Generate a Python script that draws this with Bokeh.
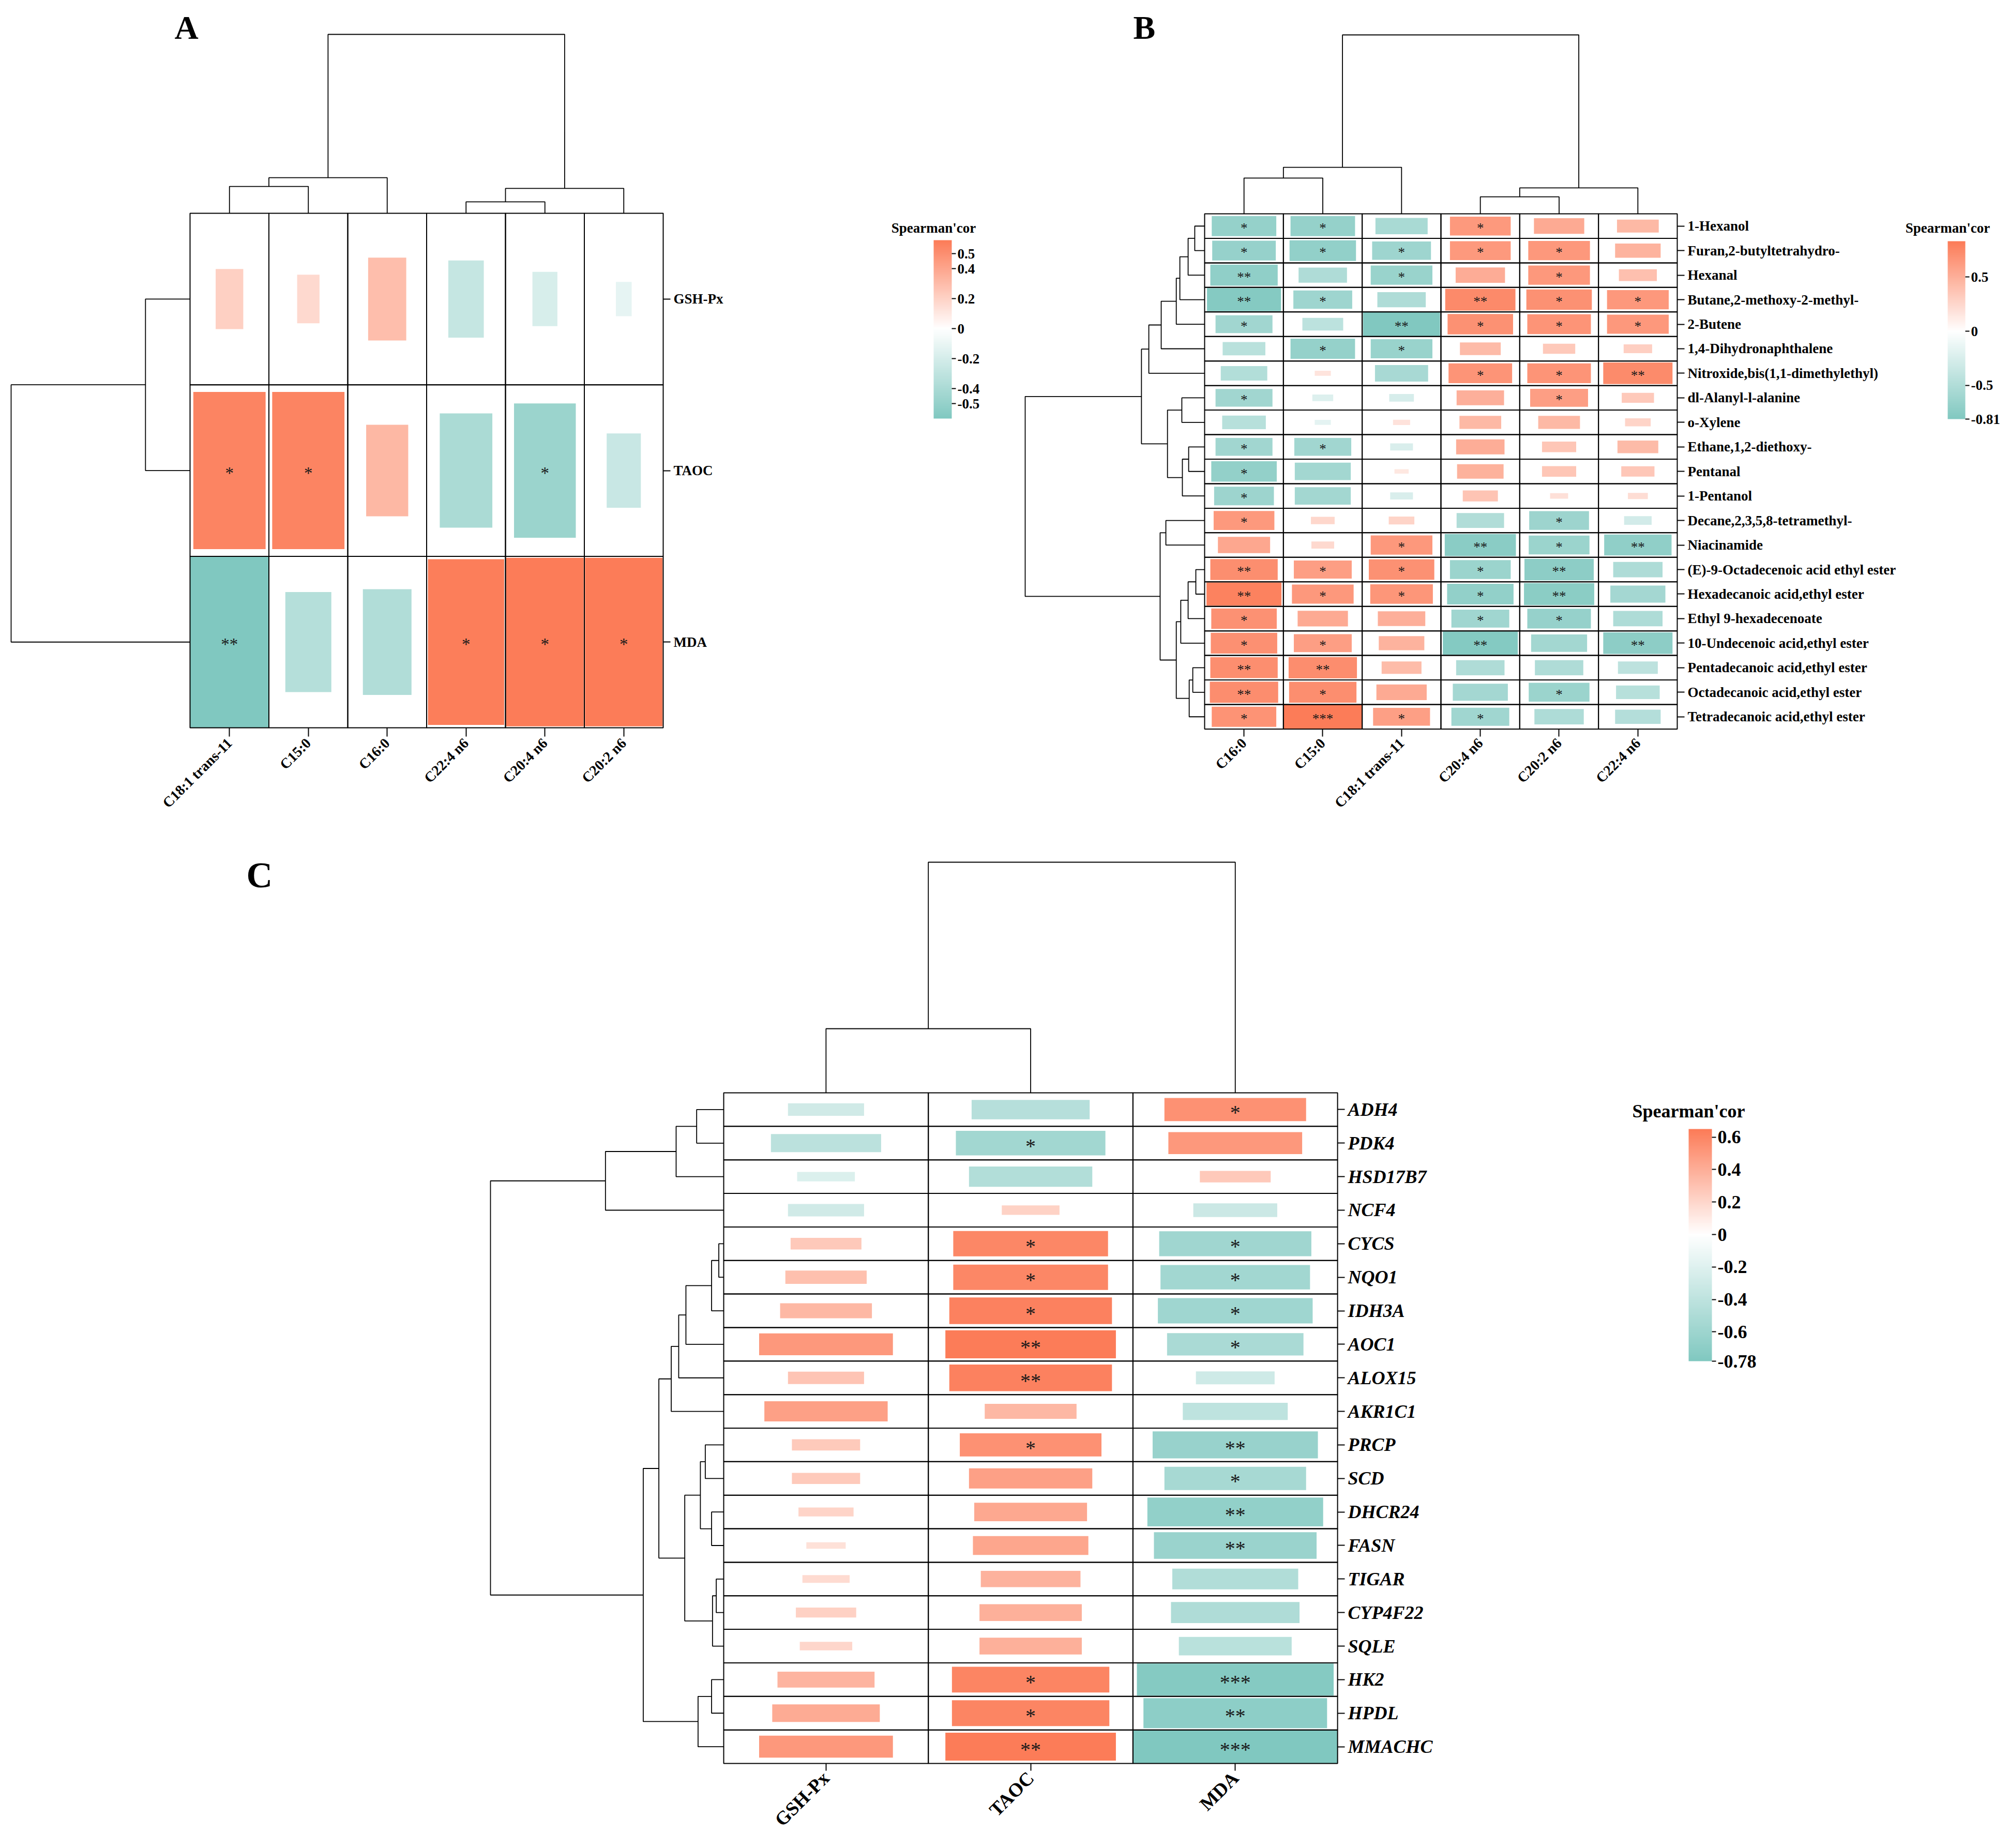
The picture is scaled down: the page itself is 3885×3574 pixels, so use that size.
import math
from bokeh.plotting import figure
from bokeh.models import ColumnDataSource, Range1d, FixedTicker, LinearColorMapper, ColorBar, Label
from bokeh.layouts import row, column
from bokeh.embed import file_html
from bokeh.resources import INLINE
from bokeh.core.properties import value

FONT = "Liberation Serif"

# ---------------- Panel A data ----------------
a_cols = ["C18:1 trans-11", "C15:0", "C16:0", "C22:4 n6", "C20:4 n6", "C20:2 n6"]
a_rows = ["GSH-Px", "TAOC", "MDA"]
a_gsh_px = [0.21, 0.17, 0.29, -0.27, -0.19, -0.12]
a_taoc = [0.55, 0.55, 0.32, -0.40, -0.47, -0.26]
a_mda = [-0.60, -0.35, -0.37, 0.58, 0.59, 0.59]
a_sig_gsh_px = ["", "", "", "", "", ""]
a_sig_taoc = ["*", "*", "", "", "*", ""]
a_sig_mda = ["**", "", "", "*", "*", "*"]
a_col_merges = [(0, 1, 0.150), (6, 2, 0.199), (3, 4, 0.064), (8, 5, 0.139), (7, 9, 1.0)]
a_row_merges = [(0, 1, 0.249), (3, 2, 1.0)]
a_legend_ticks = [-0.5, -0.4, -0.2, 0, 0.2, 0.4, 0.5]

# ---------------- Panel B data ----------------
b_cols = ["C16:0", "C15:0", "C18:1 trans-11", "C20:4 n6", "C20:2 n6", "C22:4 n6"]
b_rows = ["1-Hexanol", "Furan,2-butyltetrahydro-", "Hexanal", "Butane,2-methoxy-2-methyl-",
          "2-Butene", "1,4-Dihydronaphthalene", "Nitroxide,bis(1,1-dimethylethyl)",
          "dl-Alanyl-l-alanine", "o-Xylene", "Ethane,1,2-diethoxy-", "Pentanal", "1-Pentanol",
          "Decane,2,3,5,8-tetramethyl-", "Niacinamide", "(E)-9-Octadecenoic acid ethyl ester",
          "Hexadecanoic acid,ethyl ester", "Ethyl 9-hexadecenoate", "10-Undecenoic acid,ethyl ester",
          "Pentadecanoic acid,ethyl ester", "Octadecanoic acid,ethyl ester", "Tetradecanoic acid,ethyl ester"]
b_c16_0 = [-0.68, -0.67, -0.71, -0.78, -0.60, -0.45, -0.49, -0.60, -0.46, -0.60, -0.69, -0.63,
           0.64, 0.55, 0.71, 0.79, 0.69, 0.70, 0.71, 0.72, 0.68]
b_c15_0 = [-0.68, -0.70, -0.51, -0.62, -0.43, -0.68, 0.17, -0.22, -0.17, -0.60, -0.59, -0.59,
           0.25, 0.24, 0.61, 0.65, 0.53, 0.61, 0.72, 0.71, 0.83]
b_c18_1 = [-0.55, -0.62, -0.65, -0.51, -0.81, -0.65, -0.56, -0.26, 0.18, -0.24, 0.15, -0.24,
           0.27, 0.65, 0.69, 0.66, 0.50, 0.48, 0.42, 0.53, 0.60]
b_c20_4 = [0.64, 0.64, 0.52, 0.74, 0.69, 0.43, 0.67, 0.50, 0.44, 0.51, 0.49, 0.37,
           -0.50, -0.75, -0.64, -0.70, -0.61, -0.79, -0.51, -0.58, -0.61]
b_c20_2 = [0.53, 0.65, 0.65, 0.69, 0.67, 0.34, 0.67, 0.61, 0.44, 0.36, 0.36, 0.19,
           -0.63, -0.64, -0.73, -0.74, -0.67, -0.59, -0.51, -0.64, -0.52]
b_c22_4 = [0.44, 0.48, 0.40, 0.65, 0.65, 0.30, 0.73, 0.34, 0.27, 0.43, 0.35, 0.21,
           -0.29, -0.71, -0.52, -0.58, -0.52, -0.73, -0.42, -0.46, -0.48]
b_sig_c16_0 = ["*", "*", "**", "**", "*", "", "", "*", "", "*", "*", "*", "*", "", "**", "**", "*", "*", "**", "**", "*"]
b_sig_c15_0 = ["*", "*", "", "*", "", "*", "", "", "", "*", "", "", "", "", "*", "*", "", "*", "**", "*", "***"]
b_sig_c18_1 = ["", "*", "*", "", "**", "*", "", "", "", "", "", "", "", "*", "*", "*", "", "", "", "", "*"]
b_sig_c20_4 = ["*", "*", "", "**", "*", "", "*", "", "", "", "", "", "", "**", "*", "*", "*", "**", "", "", "*"]
b_sig_c20_2 = ["", "*", "*", "*", "*", "", "*", "*", "", "", "", "", "*", "*", "**", "**", "*", "", "", "*", ""]
b_sig_c22_4 = ["", "", "", "*", "*", "", "**", "", "", "", "", "", "", "**", "", "", "", "**", "", "", ""]
b_col_merges = [(0, 1, 0.20), (6, 2, 0.26), (3, 4, 0.095), (8, 5, 0.145), (7, 9, 1.0)]
b_row_merges = [(0, 1, 0.055), (21, 2, 0.092), (22, 3, 0.138), (23, 4, 0.158), (24, 5, 0.242),
                (25, 6, 0.311), (7, 8, 0.127), (9, 10, 0.089), (28, 11, 0.124), (27, 29, 0.207),
                (26, 30, 0.352), (12, 13, 0.216), (14, 15, 0.049), (33, 16, 0.092), (34, 17, 0.133),
                (18, 19, 0.066), (36, 20, 0.086), (35, 37, 0.158), (32, 38, 0.248), (31, 39, 1.0)]
b_legend_ticks = [-0.81, -0.5, 0, 0.5]

# ---------------- Panel C data ----------------
c_cols = ["GSH-Px", "TAOC", "MDA"]
c_rows = ["ADH4", "PDK4", "HSD17B7", "NCF4", "CYCS", "NQO1", "IDH3A", "AOC1", "ALOX15", "AKR1C1",
          "PRCP", "SCD", "DHCR24", "FASN", "TIGAR", "CYP4F22", "SQLE", "HK2", "HPDL", "MMACHC"]
c_gsh_px = [-0.29, -0.42, -0.22, -0.29, 0.27, 0.31, 0.35, 0.51, 0.29, 0.47,
            0.26, 0.26, 0.21, 0.15, 0.18, 0.23, 0.20, 0.37, 0.41, 0.51]
c_taoc = [-0.45, -0.57, -0.47, 0.22, 0.59, 0.59, 0.62, 0.65, 0.62, 0.35,
          0.54, 0.47, 0.43, 0.44, 0.38, 0.39, 0.39, 0.60, 0.60, 0.65]
c_mda = [0.54, 0.51, 0.27, -0.32, -0.58, -0.57, -0.59, -0.52, -0.30, -0.40,
         -0.63, -0.54, -0.67, -0.62, -0.48, -0.49, -0.43, -0.75, -0.70, -0.78]
c_sig_gsh_px = [""] * 20
c_sig_taoc = ["", "*", "", "", "*", "*", "*", "**", "**", "", "*", "", "", "", "", "", "", "*", "*", "**"]
c_sig_mda = ["*", "", "", "", "*", "*", "*", "*", "", "", "**", "*", "**", "**", "", "", "", "***", "**", "***"]
c_col_merges = [(0, 1, 0.278), (3, 2, 1.0)]
c_row_merges = [(0, 1, 0.116), (20, 2, 0.204), (21, 3, 0.507), (4, 5, 0.021), (23, 6, 0.052),
                (24, 7, 0.162), (25, 8, 0.193), (26, 9, 0.225), (10, 11, 0.079), (12, 13, 0.052),
                (28, 29, 0.10), (14, 15, 0.032), (31, 16, 0.048), (30, 32, 0.167), (27, 33, 0.278),
                (17, 18, 0.052), (35, 19, 0.11), (34, 36, 0.345), (22, 37, 1.0)]
c_legend_ticks = [-0.78, -0.6, -0.4, -0.2, 0, 0.2, 0.4, 0.6]

TEAL = (128, 200, 192)
CORAL = (252, 123, 87)


def make_palette(low, high, n=256):
    pal = []
    for k in range(n):
        v = low + (high - low) * (k + 0.5) / n
        if v < 0:
            t, c = v / low, TEAL
        else:
            t, c = v / high, CORAL
        rgb = tuple(int(round(255 + t * (ci - 255))) for ci in c)
        pal.append("#%02x%02x%02x" % rgb)
    return pal


def dendro(merges, n):
    pos = [float(i) for i in range(n)]
    hgt = [0.0] * n
    ps, hs = [], []
    for a, b, h in merges:
        ps.append([pos[a], pos[a], pos[b], pos[b]])
        hs.append([hgt[a], h, h, hgt[b]])
        pos.append((pos[a] + pos[b]) / 2.0)
        hgt.append(h)
    return ps, hs


def fmt_tick(t):
    return "0" if t == 0 else ("%g" % t)


def style_plain(p):
    p.outline_line_color = None
    p.background_fill_color = "white"
    p.border_fill_color = "white"


def build_panel(cfg, matrix, sigs, mapper):
    cols, rows = cfg["cols"], cfg["rows"]
    ncol, nrow = len(cols), len(rows)
    cw, ch = cfg["cw"], cfg["ch"]
    hm_l, hm_t = cfg["hm_l"], cfg["hm_t"]
    hm_r, hm_b = hm_l + ncol * cw, hm_t + nrow * ch
    fx, fy, W, H = cfg["fx"], cfg["fy"], cfg["W"], cfg["H"]
    fl, ft, fr, fb = cfg["frame_l"], cfg["frame_t"], cfg["frame_r"], cfg["frame_b"]
    xr = Range1d(-0.5 + (fl - hm_l) / cw, -0.5 + (fr - hm_l) / cw)
    yr = Range1d(-0.5 + (fb - hm_t) / ch, -0.5 + (ft - hm_t) / ch)
    p = figure(width=W, height=H, x_range=xr, y_range=yr, output_backend="svg",
               toolbar_location=None, x_axis_location="below", y_axis_location="right",
               min_border_left=fl - fx, min_border_top=ft - fy,
               min_border_right=fx + W - fr, min_border_bottom=fy + H - fb)
    p.xgrid.visible = False
    p.ygrid.visible = False
    style_plain(p)

    tp = cfg["text_px"]
    xa = p.xaxis[0]
    xa.ticker = FixedTicker(ticks=list(range(ncol)))
    xa.major_label_overrides = {j: nm for j, nm in enumerate(cols)}
    xa.major_label_orientation = math.pi / 4
    xa.major_tick_in = max(int(round(fb - hm_b)), 0)
    ya = p.yaxis[0]
    ya.ticker = FixedTicker(ticks=list(range(nrow)))
    ya.major_label_overrides = {i: nm for i, nm in enumerate(rows)}
    ya.major_tick_in = max(int(round(fr - hm_r)), 0)
    for ax in (xa, ya):
        ax.axis_line_color = None
        ax.minor_tick_line_color = None
        ax.major_tick_out = 10
        ax.major_tick_line_width = 2
        ax.major_tick_line_color = "black"
        ax.major_label_text_font = FONT
        ax.major_label_text_font_style = "bold"
        ax.major_label_text_font_size = "%dpx" % tp
        ax.major_label_text_color = "black"
    xa.major_label_text_font_size = "%dpx" % cfg.get("col_text_px", tp)
    xa.major_label_standoff = 8
    ya.major_label_standoff = 6
    if cfg.get("row_italic"):
        ya.major_label_text_font_style = "bold italic"

    xs, ys, rs, ss, sg = [], [], [], [], []
    vmax = max(abs(v) for rr in matrix for v in rr)
    for i in range(nrow):
        for j in range(ncol):
            v = matrix[i][j]
            xs.append(j)
            ys.append(i)
            rs.append(v)
            ss.append(abs(v) / vmax)
            sg.append(sigs[i][j])
    src = ColumnDataSource(dict(x=xs, y=ys, r=rs, s=ss, sig=sg))
    p.rect("x", "y", width="s", height="s", source=src,
           fill_color={"field": "r", "transform": mapper}, line_color=None)
    p.rect("x", "y", width=1, height=1, source=src, fill_color=None,
           line_color="black", line_width=2)
    p.text("x", "y", text="sig", source=src, text_align="center", text_baseline="middle",
           text_font=value(FONT), text_font_size="%dpx" % cfg["star_px"], text_color="#1a1a1a",
           y_offset=cfg["star_px"] * 0.14)

    # column dendrogram (top)
    pc, hc = dendro(cfg["col_merges"], ncol)
    dy = [[-0.5 - h * cfg["root_top"] / ch for h in seg] for seg in hc]
    p.multi_line(pc, dy, line_color="black", line_width=1.8)
    # row dendrogram (left)
    pr, hr = dendro(cfg["row_merges"], nrow)
    ex = [[-0.5 - h * cfg["root_left"] / cw for h in seg] for seg in hr]
    p.multi_line(ex, pr, line_color="black", line_width=1.8)

    lx, ly = cfg["letter_pos"]
    p.add_layout(Label(x=-0.5 + (lx - hm_l) / cw, y=-0.5 + (ly - hm_t) / ch, text=cfg["letter"],
                       text_font=FONT, text_font_style="bold",
                       text_font_size="%dpx" % cfg["letter_px"], text_baseline="middle",
                       text_align="left", text_color="black"))
    return p


def build_legend(fx, fy, W, H, frame_t, frame_b, mapper, ticks, bar_l, bar_t, bar_w, bar_h,
                 title_y, title_px, label_px):
    p = figure(width=W, height=H, x_range=Range1d(fx, fx + W), y_range=Range1d(frame_b, frame_t),
               output_backend="svg", toolbar_location=None,
               min_border_left=0, min_border_right=0,
               min_border_top=frame_t - fy, min_border_bottom=fy + H - frame_b,
               x_axis_location=None, y_axis_location=None)
    p.grid.visible = False
    style_plain(p)
    cb = ColorBar(color_mapper=mapper, ticker=FixedTicker(ticks=ticks),
                  major_label_overrides={t: fmt_tick(t) for t in ticks},
                  location=(bar_l - fx, frame_b - (bar_t + bar_h)), width=bar_w, height=bar_h,
                  padding=0, margin=0, major_tick_in=0, major_tick_out=8,
                  major_tick_line_color="black", major_tick_line_width=2, label_standoff=3,
                  major_label_text_font=FONT, major_label_text_font_style="bold",
                  major_label_text_font_size="%dpx" % label_px, major_label_text_color="black",
                  bar_line_color=None, border_line_color=None, background_fill_alpha=0)
    p.add_layout(cb, "center")
    p.add_layout(Label(x=bar_l, y=title_y, text="Spearman'cor", text_font=FONT,
                       text_font_style="bold", text_font_size="%dpx" % title_px,
                       text_align="center", text_baseline="middle", text_color="black"))
    return p


# ---------------- assemble ----------------
a_matrix = [a_gsh_px, a_taoc, a_mda]
a_sigs = [a_sig_gsh_px, a_sig_taoc, a_sig_mda]
b_colvals = [b_c16_0, b_c15_0, b_c18_1, b_c20_4, b_c20_2, b_c22_4]
b_colsigs = [b_sig_c16_0, b_sig_c15_0, b_sig_c18_1, b_sig_c20_4, b_sig_c20_2, b_sig_c22_4]
b_matrix = [[b_colvals[j][i] for j in range(len(b_cols))] for i in range(len(b_rows))]
b_sigs = [[b_colsigs[j][i] for j in range(len(b_cols))] for i in range(len(b_rows))]
c_colvals = [c_gsh_px, c_taoc, c_mda]
c_colsigs = [c_sig_gsh_px, c_sig_taoc, c_sig_mda]
c_matrix = [[c_colvals[j][i] for j in range(len(c_cols))] for i in range(len(c_rows))]
c_sigs = [[c_colsigs[j][i] for j in range(len(c_cols))] for i in range(len(c_rows))]


def mapper_for(matrix):
    lo = min(v for r in matrix for v in r)
    hi = max(v for r in matrix for v in r)
    return LinearColorMapper(palette=make_palette(lo, hi), low=lo, high=hi)


mA, mB, mC = mapper_for(a_matrix), mapper_for(b_matrix), mapper_for(c_matrix)

ROW1_H, ROW2_H = 1648, 1926
R1_T, R1_B = 10, 1414          # frame top/bottom shared across row 1
R2_T, R2_B = 1652, 3414        # frame top/bottom shared across row 2

cfgA = dict(cols=a_cols, rows=a_rows, cw=152.5, ch=331.7, hm_l=367, hm_t=412,
            fx=0, fy=0, W=1650, H=ROW1_H, frame_l=8, frame_t=R1_T, frame_r=1286, frame_b=R1_B,
            text_px=27, col_text_px=28, star_px=33,
            col_merges=a_col_merges, row_merges=a_row_merges, root_top=346, root_left=346,
            letter="A", letter_pos=(337, 53), letter_px=64)
cfgB = dict(cols=b_cols, rows=b_rows, cw=152.33, ch=47.45, hm_l=2329, hm_t=413,
            fx=1950, fy=0, W=1730, H=ROW1_H, frame_l=1962, frame_t=R1_T, frame_r=3247, frame_b=R1_B,
            text_px=27, col_text_px=28, star_px=27,
            col_merges=b_col_merges, row_merges=b_row_merges, root_top=346, root_left=347,
            letter="B", letter_pos=(2191, 53), letter_px=64)
cfgC = dict(cols=c_cols, rows=c_rows, cw=395.7, ch=64.85, hm_l=1399, hm_t=2113,
            fx=0, fy=ROW1_H, W=3140, H=ROW2_H, frame_l=20, frame_t=R2_T, frame_r=2590, frame_b=R2_B,
            text_px=36, col_text_px=37, star_px=40,
            col_merges=c_col_merges, row_merges=c_row_merges, root_top=446, root_left=451,
            letter="C", letter_pos=(476, 1692), letter_px=70, row_italic=True)

pA = build_panel(cfgA, a_matrix, a_sigs, mA)
pB = build_panel(cfgB, b_matrix, b_sigs, mB)
pC = build_panel(cfgC, c_matrix, c_sigs, mC)

lA = build_legend(1650, 0, 300, ROW1_H, R1_T, R1_B, mA, a_legend_ticks, 1805, 464, 35, 345, 440, 27, 27)
lB = build_legend(3680, 0, 205, ROW1_H, R1_T, R1_B, mB, b_legend_ticks, 3766, 466, 34, 344, 440, 27, 27)
lC = build_legend(3140, ROW1_H, 745, ROW2_H, R2_T, R2_B, mC, c_legend_ticks, 3265, 2183, 45, 449, 2148, 36, 36)

layout = column(row(pA, lA, pB, lB), row(pC, lC))

with open("out.html", "w") as f:
    f.write(file_html(layout, INLINE))
